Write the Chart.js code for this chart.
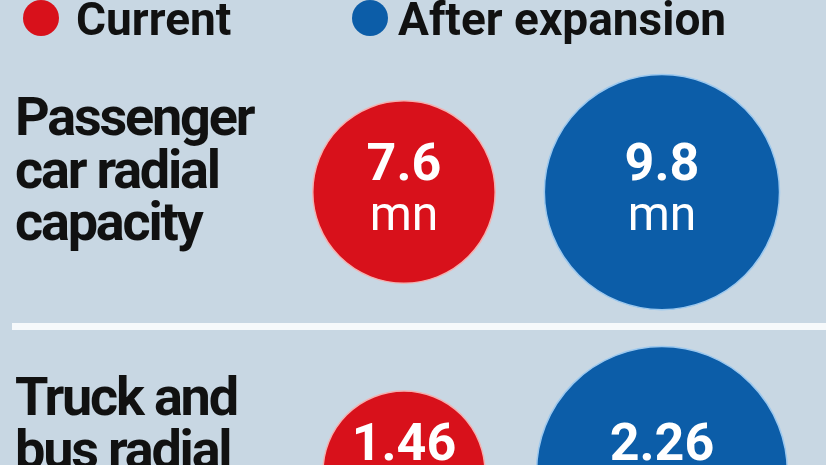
<!DOCTYPE html>
<html>
<head>
<meta charset="utf-8">
<script src="https://cdn.jsdelivr.net/npm/chart.js@4.4.1/dist/chart.umd.min.js"></script>
<style>
  html, body { margin: 0; padding: 0; overflow: hidden; background: #c8d7e3; }
  #wrap { position: relative; width: 826px; height: 465px; overflow: hidden; }
  #divider { position: absolute; left: 12px; right: 0; top: 323px; height: 7px; background: #f6f9fb; }
  #box { position: absolute; left: 0; top: 0; width: 826px; height: 600px; }
</style>
</head>
<body>
<div id="wrap">
  <div id="divider"></div>
  <div id="box"><canvas id="bubbleCanvas"></canvas></div>
</div>
<script>
const seriesNames = ['Current', 'After expansion'];
const rowLabels = [
    ['Passenger', 'car radial', 'capacity'],
    ['Truck and', 'bus radial', 'capacity']
];
const currentValues = [7.6, 1.46];
const afterValues = [9.8, 2.26];
const unit = 'mn';

// each row has its own size scale (radius grows with the value)
const pxPerUnit = [12, 55.5];
const colours = ['#d8111b', '#0c5da8'];
const edges = ['#f2b2b2', '#9cc8ee'];

const legendDotX = [41, 370];
const legendTextX = [76, 398];

function bubbles(values, col) {
    return values.map((v, r) => ({ x: col, y: r, r: v * pxPerUnit[r], v: v }));
}

const labelPlugin = {
    id: 'labelPlugin',
    afterDatasetsDraw(chart) {
        const ctx = chart.ctx;
        const yScale = chart.scales.y;
        ctx.save();
        ctx.textBaseline = 'alphabetic';

        // legend
        ctx.font = '700 46px Roboto';
        chart.data.datasets.forEach((ds, i) => {
            ctx.fillStyle = ds.backgroundColor;
            ctx.beginPath();
            ctx.arc(legendDotX[i], 18, 18, 0, Math.PI * 2);
            ctx.fill();
            ctx.fillStyle = '#111';
            ctx.fillText(ds.label, legendTextX[i], 35);
        });

        // row names on the left
        ctx.font = '700 54px Roboto';
        ctx.letterSpacing = '-2.2px';
        rowLabels.forEach((lines, r) => {
            const cy = yScale.getPixelForValue(r);
            lines.forEach((line, k) => {
                ctx.fillText(line, 15, cy - 57 + k * 52.5);
            });
        });
        ctx.letterSpacing = '0px';

        // values inside the circles
        ctx.textAlign = 'center';
        ctx.fillStyle = '#fff';
        chart.data.datasets.forEach((ds, i) => {
            chart.getDatasetMeta(i).data.forEach((pt, j) => {
                ctx.font = '700 52px Roboto';
                ctx.fillText(String(ds.data[j].v), pt.x, pt.y - 12);
                ctx.font = '400 48px Roboto';
                ctx.fillText(unit, pt.x, pt.y + 38);
            });
        });
        ctx.restore();
    }
};

const ctx = document.getElementById('bubbleCanvas').getContext('2d');
const bubbleChart = new Chart(ctx, {
    type: 'bubble',
    data: {
        datasets: [{
            label: seriesNames[0],
            data: bubbles(currentValues, 0),
            backgroundColor: colours[0],
            borderColor: edges[0],
            borderWidth: 1.5,
            clip: false
        }, {
            label: seriesNames[1],
            data: bubbles(afterValues, 1),
            backgroundColor: colours[1],
            borderColor: edges[1],
            borderWidth: 1.5,
            clip: false
        }]
    },
    options: {
        responsive: true,
        maintainAspectRatio: false,
        animation: false,
        events: [],
        layout: { padding: 0, autoPadding: false },
        plugins: { legend: { display: false }, tooltip: { enabled: false } },
        scales: {
            x: { type: 'linear', display: false, min: -1.566, max: 1.636 },
            y: { type: 'linear', display: false, reverse: true, min: -0.686, max: 1.457 }
        }
    },
    plugins: [labelPlugin]
});
</script>
</body>
</html>
